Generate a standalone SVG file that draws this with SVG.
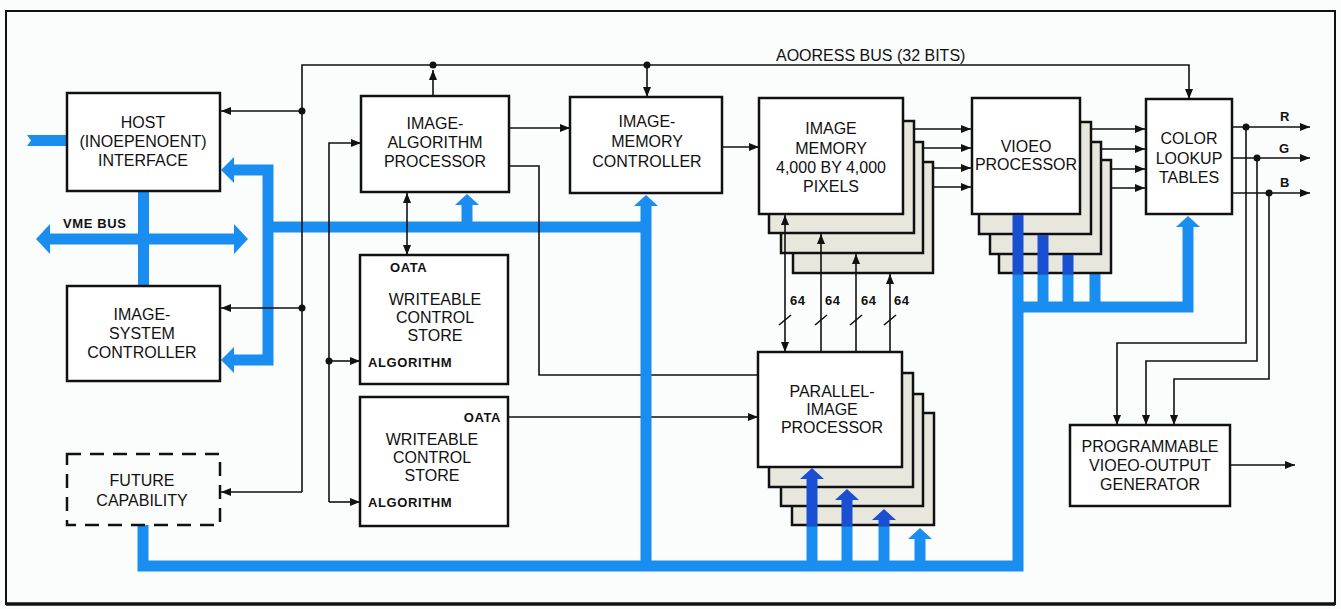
<svg xmlns="http://www.w3.org/2000/svg" width="1341" height="609" viewBox="0 0 1341 609">
<style>
.box{fill:#fff;stroke:#111;stroke-width:2.5}
.layer{fill:#e8e7de;stroke:#111;stroke-width:2.5}
.dash{fill:none;stroke:#111;stroke-width:2.5;stroke-dasharray:14 9}
.ln{fill:none;stroke:#111;stroke-width:1.6}
.arr{marker-end:url(#ah)}
.arr2{marker-start:url(#ah);marker-end:url(#ah)}
.dot{fill:#111}
.t{font-family:"Liberation Sans",Arial,sans-serif;font-size:16px;fill:#111;text-anchor:middle}
.s{font-family:"Liberation Sans",Arial,sans-serif;font-size:13px;font-weight:bold;fill:#111;letter-spacing:0.6px}
.bl{fill:none;stroke:#1a8ef0;stroke-width:11}
.bd{fill:none;stroke:#1b4fd3;stroke-width:11}
.bh{fill:#1a8ef0}
.bhd{fill:#1b4fd3}
</style>
<defs>
<marker id="ah" viewBox="0 0 10 8" refX="10" refY="4" markerWidth="10" markerHeight="8" markerUnits="userSpaceOnUse" orient="auto-start-reverse"><path d="M0,0 L10,4 L0,8 z" fill="#111"/></marker>
</defs>
<rect x="0" y="0" width="1341" height="609" fill="#fbfcfc"/>
<rect x="6" y="11" width="1329" height="593" fill="none" stroke="#111" stroke-width="2"/>
<line x1="6" y1="604" x2="1335" y2="604" stroke="#111" stroke-width="3.5"/>

<g id="buses">
<polygon class="bh" points="27,135 67,135 67,146 27,146 31,140.5"/>
<rect class="bh" x="138" y="191" width="11" height="95"/>
<line class="bl" x1="48" y1="239" x2="236" y2="239"/>
<polygon class="bh" points="36,239 50,224 50,254"/>
<polygon class="bh" points="248,239 234,224 234,254"/>
<path class="bl" d="M232,170 H268 V360 H232" stroke-linejoin="miter"/>
<polygon class="bh" points="221,170 234,157 234,183"/>
<polygon class="bh" points="221,360 234,347 234,373"/>
<line class="bl" x1="268" y1="227" x2="646" y2="227"/>
<line class="bl" x1="467" y1="227" x2="467" y2="204"/>
<polygon class="bh" points="467,194 455,205 479,205"/>
<path class="bl" d="M143,525 V566 H1018 V273" stroke-linejoin="miter"/>
<line class="bl" x1="1043" y1="273" x2="1043" y2="307"/>
<line class="bl" x1="1068" y1="273" x2="1068" y2="307"/>
<line class="bl" x1="1095" y1="273" x2="1095" y2="307"/>
<path class="bl" d="M1018,307 H1188 V226" stroke-linejoin="miter"/>
<polygon class="bh" points="1188,216 1176,227 1200,227"/>
<line class="bl" x1="812" y1="566" x2="812" y2="525"/>
<line class="bl" x1="847" y1="566" x2="847" y2="525"/>
<line class="bl" x1="884" y1="566" x2="884" y2="525"/>
<line class="bl" x1="920" y1="566" x2="920" y2="537"/>
<polygon class="bh" points="920,528 908,539 932,539"/>
</g>

<g id="connectors">
<path class="ln arr" d="M302,111 H221"/>
<path class="ln arr" d="M302,308 H221"/>
<path class="ln arr" d="M302,492 H221"/>
<path class="ln arr" d="M302,492 V65 H1189 V99"/>
<path class="ln arr" d="M433,96 V70"/>
<path class="ln arr" d="M647,65 V97"/>
<path class="ln arr" d="M329,502 V143 H361"/>
<path class="ln arr" d="M329,502 H360"/>
<path class="ln arr" d="M329,361 H360"/>
<path class="ln arr2" d="M407,193 V255"/>
<path class="ln arr" d="M509,128 H570"/>
<path class="ln" d="M509,166 H539 V375 H758"/>
<path class="ln arr" d="M508,417 H758"/>
<path class="ln arr" d="M722,147 H759"/>
<path class="ln arr" d="M914,129 H971"/>
<path class="ln arr" d="M923,148 H971"/>
<path class="ln arr" d="M933,168 H971"/>
<path class="ln arr" d="M933,187 H971"/>
<path class="ln arr" d="M1091,129 H1145"/>
<path class="ln arr" d="M1101,149 H1145"/>
<path class="ln arr" d="M1111,169 H1145"/>
<path class="ln arr" d="M1111,188 H1145"/>
<path class="ln arr" d="M1232,127 H1310"/>
<path class="ln arr" d="M1232,158 H1310"/>
<path class="ln arr" d="M1232,193 H1310"/>
<path class="ln arr" d="M1246,127 V343 H1117 V425"/>
<path class="ln arr" d="M1257,158 V361 H1146 V425"/>
<path class="ln arr" d="M1269,193 V379 H1174 V425"/>
<path class="ln arr" d="M1230,465 H1295"/>
<circle class="dot" cx="302" cy="111" r="3.5"/>
<circle class="dot" cx="302" cy="308" r="3.5"/>
<circle class="dot" cx="433" cy="65" r="3.5"/>
<circle class="dot" cx="647" cy="65" r="3.5"/>
<circle class="dot" cx="329" cy="361" r="3.5"/>
<circle class="dot" cx="1246" cy="127" r="3.5"/>
<circle class="dot" cx="1257" cy="158" r="3.5"/>
<circle class="dot" cx="1269" cy="193" r="3.5"/>
<text x="776" y="61" font-family="Liberation Sans, Arial, sans-serif" font-size="16" fill="#111">AOORESS BUS (32 BITS)</text>
<text class="s" x="63" y="228">VME BUS</text>
<text class="s" x="790" y="305">64</text>
<text class="s" x="825" y="305">64</text>
<text class="s" x="861" y="305">64</text>
<text class="s" x="894" y="305">64</text>
<text class="s" x="1280" y="121" font-size="14">R</text>
<text class="s" x="1279" y="153" font-size="14">G</text>
<text class="s" x="1280" y="187" font-size="14">B</text>
</g>
<line class="bl" x1="646" y1="566" x2="646" y2="205"/>
<polygon class="bh" points="646,195 634,206 658,206"/>

<g id="host">
<rect class="box" x="67" y="93" width="153" height="98"/>
<text class="t" x="143" y="128">HOST</text>
<text class="t" x="143" y="147">(INOEPENOENT)</text>
<text class="t" x="143" y="166">INTERFACE</text>
</g>
<g id="image-system-controller">
<rect class="box" x="67" y="286" width="153" height="95"/>
<text class="t" x="142" y="320">IMAGE-</text>
<text class="t" x="142" y="339">SYSTEM</text>
<text class="t" x="142" y="358">CONTROLLER</text>
</g>
<g id="future-capability">
<rect class="dash" x="67" y="454" width="153" height="71"/>
<text class="t" x="142" y="486">FUTURE</text>
<text class="t" x="142" y="506">CAPABILITY</text>
</g>
<g id="image-algorithm-processor">
<rect class="box" x="361" y="96" width="148" height="96"/>
<text class="t" x="435" y="129">IMAGE-</text>
<text class="t" x="435" y="148">ALGORITHM</text>
<text class="t" x="435" y="167">PROCESSOR</text>
</g>
<g id="image-memory-controller">
<rect class="box" x="570" y="97" width="152" height="96"/>
<text class="t" x="647" y="127">IMAGE-</text>
<text class="t" x="647" y="147">MEMORY</text>
<text class="t" x="647" y="167">CONTROLLER</text>
</g>
<g id="wcs1">
<rect class="box" x="360" y="255" width="148" height="129"/>
<text class="s" x="390" y="272">OATA</text>
<text class="t" x="435" y="305">WRITEABLE</text>
<text class="t" x="435" y="323">CONTROL</text>
<text class="t" x="435" y="341">STORE</text>
<text class="s" x="368" y="367">ALGORITHM</text>
</g>
<g id="wcs2">
<rect class="box" x="360" y="397" width="148" height="129"/>
<text class="s" x="501" y="422" text-anchor="end">OATA</text>
<text class="t" x="432" y="445">WRITEABLE</text>
<text class="t" x="432" y="463">CONTROL</text>
<text class="t" x="432" y="481">STORE</text>
<text class="s" x="368" y="507">ALGORITHM</text>
</g>
<g id="image-memory">
<rect class="layer" x="793" y="162" width="140" height="111"/>
<rect class="layer" x="781" y="142" width="142" height="111"/>
<rect class="layer" x="769" y="121" width="145" height="112"/>
<rect class="box" x="759" y="98" width="144" height="116"/>
<text class="t" x="831" y="134">IMAGE</text>
<text class="t" x="831" y="154">MEMORY</text>
<text class="t" x="831" y="173">4,000 BY 4,000</text>
<text class="t" x="831" y="192">PIXELS</text>
</g>
<g id="video-processor">
<rect class="layer" x="999" y="160" width="112" height="113"/>
<rect class="layer" x="990" y="142" width="111" height="112"/>
<rect class="layer" x="979" y="122" width="112" height="112"/>
<rect class="box" x="972" y="98" width="108" height="116"/>
<text class="t" x="1026" y="152">VIOEO</text>
<text class="t" x="1026" y="170">PROCESSOR</text>
</g>
<g id="color-lookup-tables">
<rect class="box" x="1146" y="99" width="86" height="115"/>
<text class="t" x="1189" y="144">COLOR</text>
<text class="t" x="1189" y="164">LOOKUP</text>
<text class="t" x="1189" y="183">TABLES</text>
</g>
<g id="parallel-image-processor">
<rect class="layer" x="792" y="413" width="142" height="112"/>
<rect class="layer" x="781" y="394" width="142" height="112"/>
<rect class="layer" x="769" y="373" width="144" height="114"/>
<rect class="box" x="758" y="352" width="144" height="115"/>
<text class="t" x="832" y="397">PARALLEL-</text>
<text class="t" x="832" y="415">IMAGE</text>
<text class="t" x="832" y="433">PROCESSOR</text>
</g>
<g id="video-output-generator">
<rect class="box" x="1070" y="425" width="160" height="81"/>
<text class="t" x="1150" y="452">PROGRAMMABLE</text>
<text class="t" x="1150" y="471">VIOEO-OUTPUT</text>
<text class="t" x="1150" y="490">GENERATOR</text>
</g>

<g id="stack-overlays">
<line class="bd" x1="1018" y1="274" x2="1018" y2="215"/>
<line class="bd" x1="1043" y1="274" x2="1043" y2="235"/>
<line class="bd" x1="1068" y1="274" x2="1068" y2="255"/>
<line class="bd" x1="812" y1="526" x2="812" y2="477"/>
<polygon class="bhd" points="812,468 800,479 824,479"/>
<line class="bd" x1="847" y1="526" x2="847" y2="498"/>
<polygon class="bhd" points="847,489 835,500 859,500"/>
<line class="bd" x1="884" y1="526" x2="884" y2="518"/>
<polygon class="bhd" points="884,509 872,520 896,520"/>
<path class="ln arr2" d="M785,352 V215"/>
<path class="ln arr" d="M821,352 V234"/>
<path class="ln arr" d="M856,352 V254"/>
<path class="ln arr" d="M890,352 V274"/>
<path class="ln" d="M779,325 L791,315 M815,325 L827,315 M850,325 L862,315 M884,325 L896,315"/>
</g>
</svg>
